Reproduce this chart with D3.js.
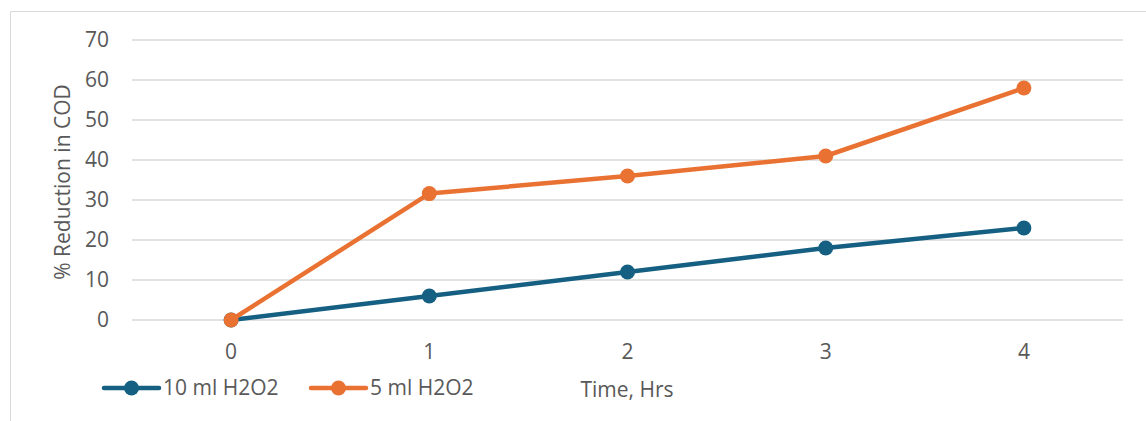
<!DOCTYPE html>
<html><head><meta charset="utf-8">
<script src="https://cdn.jsdelivr.net/npm/d3@7"></script>
<style>body{margin:0;background:#fff}svg{display:block}text{font-family:"Open Sans",sans-serif;fill:#595959}</style>
</head><body><svg id="c" width="1146" height="421"></svg>
<script>
const categories = ["0","1","2","3","4"];
const series10 = [0, 6, 12, 18, 23];
const series5 = [0, 31.6, 36, 41, 58];
const yTicks = [0,10,20,30,40,50,60,70];
const seriesNames = ["10 ml H2O2","5 ml H2O2"];
const colors = ["#156082","#E97132"];

const svg = d3.select("#c");
// chart border
svg.append("path").attr("d","M10.5,421 V11.5 H1146").attr("fill","none").attr("stroke","#d9d9d9").attr("stroke-width",1);

const x = d3.scaleBand().domain(categories).range([132,1123]);
const y = d3.scaleLinear().domain([0,70]).range([320,40]);

const fs = 21;
// gridlines
svg.append("g").selectAll("line").data(yTicks).join("line")
  .attr("x1",132).attr("x2",1123).attr("y1",d=>y(d)).attr("y2",d=>y(d))
  .attr("stroke","#d9d9d9").attr("stroke-width",1.5);
// y tick labels
svg.append("g").selectAll("text").data(yTicks).join("text")
  .attr("x",109).attr("y",d=>y(d)).attr("dy","0.35em").attr("text-anchor","end")
  .attr("font-size",fs).text(d=>d);
// x tick labels
svg.append("g").selectAll("text").data(categories).join("text")
  .attr("x",d=>x(d)+x.bandwidth()/2).attr("y",352).attr("dy","0.35em").attr("text-anchor","middle")
  .attr("font-size",fs).text(d=>d);
// axis titles
svg.append("text").attr("transform","translate(63,182) rotate(-90)").attr("text-anchor","middle")
  .attr("dy","0.35em").attr("font-size",fs).text("% Reduction in COD");
svg.append("text").attr("x",627).attr("y",390).attr("dy","0.35em").attr("text-anchor","middle")
  .attr("font-size",fs).text("Time, Hrs");

const line = d3.line().x((d,i)=>x(categories[i])+x.bandwidth()/2).y(d=>y(d));
[series10, series5].forEach((s,k)=>{
  const g = svg.append("g");
  g.append("path").attr("d",line(s)).attr("fill","none").attr("stroke",colors[k]).attr("stroke-width",4.5).attr("stroke-linejoin","round");
  g.selectAll("circle").data(s).join("circle")
    .attr("cx",(d,i)=>x(categories[i])+x.bandwidth()/2).attr("cy",d=>y(d)).attr("r",7.5).attr("fill",colors[k]);
});

// legend
const legX = [104, 311];
seriesNames.forEach((n,k)=>{
  const g = svg.append("g").attr("transform",`translate(${legX[k]},388)`);
  g.append("line").attr("x1",0).attr("x2",55).attr("stroke",colors[k]).attr("stroke-width",4.5).attr("stroke-linecap","round");
  g.append("circle").attr("cx",27.5).attr("r",7.5).attr("fill",colors[k]);
  g.append("text").attr("x",59).attr("dy","0.35em").attr("font-size",fs).text(n);
});
</script></body></html>
